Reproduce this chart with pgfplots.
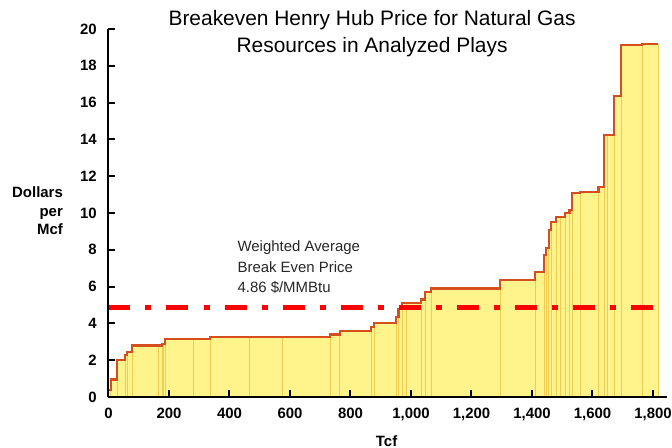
\documentclass[border=0pt]{standalone}
\usepackage{fontspec}
\setmainfont{Liberation Sans}
\usepackage{pgfplots}
\pgfplotsset{compat=1.18}
\definecolor{fillY}{RGB}{255,243,140}
\definecolor{edgeY}{RGB}{240,205,80}
\definecolor{outl}{RGB}{212,78,30}
\definecolor{dred}{RGB}{255,0,0}
\begin{document}
\begin{tikzpicture}
\useasboundingbox (-108.5bp,-51bp) rectangle (563.5bp,397bp);
\begin{axis}[
  scale only axis, width=558.4bp, height=368bp,
  xmin=0, xmax=1846, ymin=0, ymax=20,
  axis lines=left, axis line style={-, line width=2bp, black},
  axis on top,
  tick align=inside, major tick length=7bp,
  tick style={line width=2bp, black},
  xtick={0,200,...,1800}, ytick={0,2,...,20},
  /pgf/number format/assume math mode=true,
  /pgf/number format/1000 sep={,},
  ticklabel style={font=\fontsize{15}{18}\selectfont\bfseries},
  xticklabel style={inner sep=0pt, anchor=north, yshift=-11.3bp},
  yticklabel style={inner sep=0pt, anchor=east, xshift=-11.5bp},
  title={Breakeven Henry Hub Price for Natural Gas\\Resources in Analyzed Plays},
  title style={font=\fontsize{21}{27}\selectfont, align=center, anchor=north, inner sep=0pt, at={(axis description cs:0.472,1.034)}},
  xlabel={Tcf},
  xlabel style={font=\fontsize{15}{18}\selectfont\bfseries, anchor=north, inner sep=0pt, at={(axis description cs:0.498,-0.1033)}},
  ylabel={Dollars\\per\\Mcf},
  ylabel style={rotate=-90, font=\fontsize{15}{18.4}\selectfont\bfseries, align=right, anchor=north east, inner sep=0pt, at={(axis description cs:-0.0814,0.5715)}},
]
\addplot[ybar interval, fill=fillY, draw=edgeY, line width=0.8bp] coordinates {
(0,0.4) (7,0.95) (29,2.0) (55,2.3) (62,2.45) (79,2.8) (165,2.8) (177,2.88) (183,2.88)
(188,3.15) (281,3.15) (336,3.25) (466,3.25) (575,3.25) (733,3.4) (764,3.6) (868,3.8)
(879,4.02) (951,4.36) (959,4.77) (970,5.1) (985,5.1) (1033,5.3) (1047,5.72) (1066,5.9)
(1295,6.35) (1411,6.78) (1440,7.7) (1446,8.1) (1455,9.08) (1463,9.53) (1480,9.8)
(1495,9.8) (1510,9.98) (1524,10.16) (1532,11.07) (1560,11.12) (1620,11.43) (1639,14.24)
(1650,14.24) (1672,16.36) (1694,19.13) (1764,19.18) (1818,19.18)
};
\addplot[const plot, draw=outl, line width=2.2bp] coordinates {
(0,0.4) (7,0.95) (29,2.0) (55,2.3) (62,2.45) (79,2.8) (165,2.8) (177,2.88) (183,2.88)
(188,3.15) (281,3.15) (336,3.25) (466,3.25) (575,3.25) (733,3.4) (764,3.6) (868,3.8)
(879,4.02) (951,4.36) (959,4.77) (970,5.1) (985,5.1) (1033,5.3) (1047,5.72) (1066,5.9)
(1295,6.35) (1411,6.78) (1440,7.7) (1446,8.1) (1455,9.08) (1463,9.53) (1480,9.8)
(1495,9.8) (1510,9.98) (1524,10.16) (1532,11.07) (1560,11.12) (1620,11.43) (1639,14.24)
(1650,14.24) (1672,16.36) (1694,19.13) (1764,19.18) (1818,19.18)
};
\addplot[dred, line width=5bp, dash pattern=on 22bp off 15bp on 6bp off 15bp] coordinates {(0,4.86) (1800,4.86)};
\node[anchor=north west, inner sep=0pt, align=left, font=\fontsize{15}{20.3}\selectfont, text=black!85] at (axis cs:426,8.48) {Weighted Average\\Break Even Price\\4.86 \$/MMBtu};
\end{axis}
\end{tikzpicture}
\end{document}
